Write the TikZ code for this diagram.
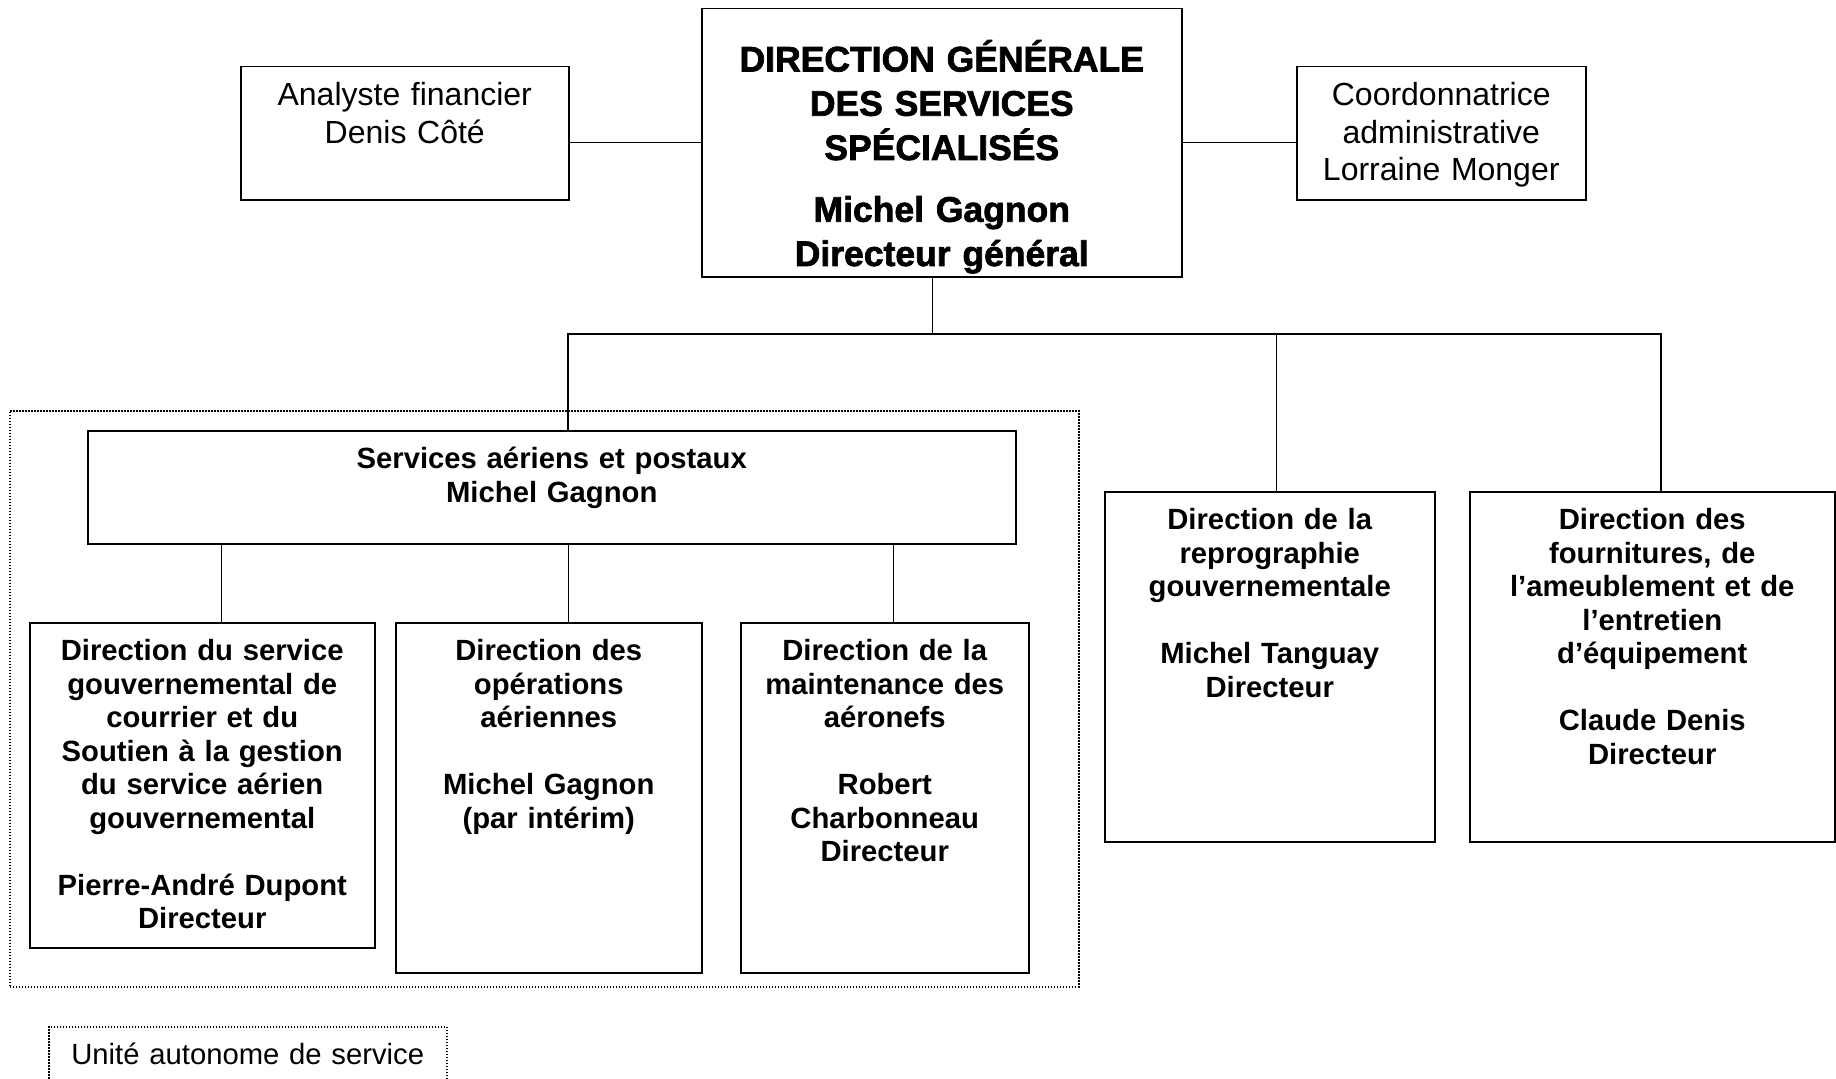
\documentclass[tikz,border=0pt]{standalone}
\usepackage{fontspec}
\setmainfont{Liberation Sans}
\newfontfamily\titlefont[FakeBold=2]{Liberation Sans Bold}
\usepackage{tikz}
\usetikzlibrary{calc}
\tikzset{
  headbox/.style={
    rectangle, draw, line width=0.6pt, anchor=north west,
    inner xsep=0pt, inner ysep=0pt, align=center,
    font=\titlefont\fontsize{14.2}{17.7}\selectfont},
  sidebox/.style={
    rectangle, draw, line width=0.6pt, anchor=north west,
    inner xsep=0pt, inner ysep=0pt, align=center,
    text height=15.6pt, text depth=37.6pt,
    font=\fontsize{12.8}{15}\selectfont},
  unitbox/.style={
    rectangle, draw, line width=0.6pt, anchor=north west,
    inner xsep=0pt, inner ysep=0pt, align=center,
    text height=15.2pt, text depth=124.8pt,
    font=\bfseries\fontsize{11.7}{13.4}\selectfont},
  uasframe/.style={
    rectangle, draw, line width=0.6pt, dash pattern=on 0.6pt off 0.6pt,
    anchor=north west, inner sep=0pt},
  legendbox/.style={
    rectangle, draw, line width=0.6pt, dash pattern=on 0.6pt off 0.6pt,
    anchor=north west, inner xsep=0pt, inner ysep=0pt, align=center,
    text height=15pt, text depth=16pt,
    font=\fontsize{11.7}{13.4}\selectfont},
  link/.style={line width=0.5pt},
}
\newcommand{\blankline}{\\[13.4pt]}

\begin{document}
\begin{tikzpicture}[x=0.4pt, y=-0.4pt]
  \useasboundingbox (0,0) rectangle (1836,1079);
  % direction generale and staff
  \node[headbox, text width=192pt, text height=25.1pt, text depth=82.1pt] (dg)
    at (701,8)
    {DIRECTION GÉNÉRALE\\DES SERVICES\\SPÉCIALISÉS\\[7pt]
     Michel Gagnon\\Directeur général};
  \node[sidebox, text width=131.2pt] (fa) at (240,66)
    {Analyste financier\\Denis Côté};
  \node[sidebox, text width=115.6pt] (ca) at (1296,66)
    {Coordonnatrice\\administrative\\Lorraine Monger};
  % unite autonome de service
  \node[uasframe, minimum width=427.6pt, minimum height=230.4pt] (uas)
    at (9,410) {};
  \node[unitbox, text width=371.2pt, text depth=30pt] (sv) at (87,430)
    {Services aériens et postaux\\Michel Gagnon};
  \node[unitbox, text width=138pt, text depth=114.8pt] (da) at (29,622)
    {Direction du service\\gouvernemental de\\courrier et du\\
     Soutien à la gestion\\du service aérien\\gouvernemental\blankline
     Pierre-André Dupont\\Directeur};
  \node[unitbox, text width=122.4pt] (db) at (395,622)
    {Direction des\\opérations\\aériennes\blankline
     Michel Gagnon\\(par intérim)};
  \node[unitbox, text width=115.2pt] (dc) at (740,622)
    {Direction de la\\maintenance des\\aéronefs\blankline
     Robert\\Charbonneau\\Directeur};
  % other directions
  \node[unitbox, text width=132pt] (dre) at (1104,491)
    {Direction de la\\reprographie\\gouvernementale\blankline
     Michel Tanguay\\Directeur};
  \node[unitbox, text width=146pt] (dfo) at (1469,491)
    {Direction des\\fournitures, de\\l’ameublement et de\\l’entretien\\
     d’équipement\blankline
     Claude Denis\\Directeur};
  \node[legendbox, text width=159.2pt] (leg) at (48,1026)
    {Unité autonome de service};
  % connectors
  \coordinate (busL) at (568,334);
  \coordinate (busR) at (1661,334);
  \draw[link] (fa.east |- dg.west) -- (dg.west);
  \draw[link] (dg.east) -- (dg.east -| ca.west);
  \draw[link] ([xshift=-3.6pt]dg.south) -- ([xshift=-3.6pt]dg.south |- busL);
  \draw[link] (busL |- sv.north) -- (busL) -- (busR) -- (busR |- dfo.north);
  \draw[link] ([xshift=2.8pt]dre.north) -- ([xshift=2.8pt]dre.north |- busL);
  \draw[link] ([xshift=7.8pt]da.north) -- ([xshift=7.8pt]da.north |- sv.south);
  \draw[link] ([xshift=8pt]db.north) -- ([xshift=8pt]db.north |- sv.south);
  \draw[link] ([xshift=3.6pt]dc.north) -- ([xshift=3.6pt]dc.north |- sv.south);
\end{tikzpicture}
\end{document}
